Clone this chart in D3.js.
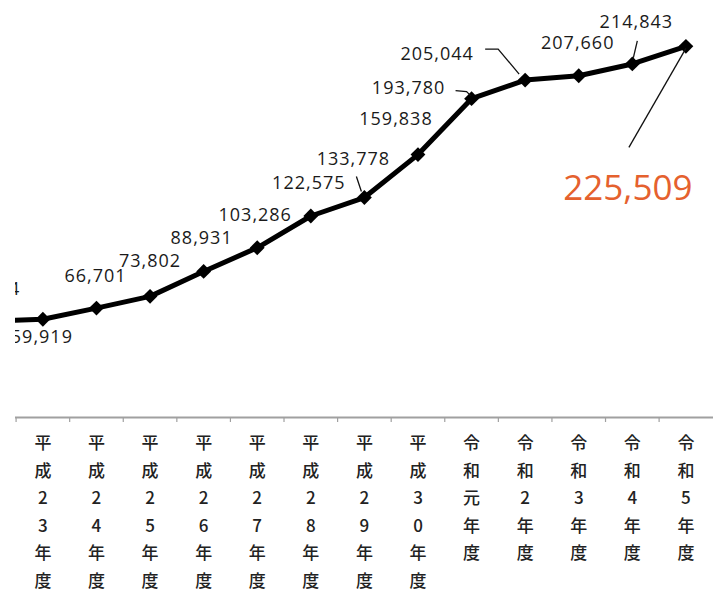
<!DOCTYPE html>
<html>
<head>
<meta charset="utf-8">
<script src="https://cdn.jsdelivr.net/npm/d3@7"></script>
<style>
  body { margin: 0; background: #fff; }
  svg { display: block; }
</style>
</head>
<body>
<div id="chart"></div>
<script>
// fiscal years (the first one is cut off at the left edge of the picture)
var years = ["平成22年度", "平成23年度", "平成24年度", "平成25年度", "平成26年度", "平成27年度",
    "平成28年度", "平成29年度", "平成30年度", "令和元年度", "令和2年度", "令和3年度",
    "令和4年度", "令和5年度"];

var counts = [58824, 59919, 66701, 73802, 88931, 103286, 122575, 133778, 159838,
    193780, 205044, 207660, 214843, 225509];

// where each value label sits, relative to its point (px)
var labelDx = [0, -1, -1, 0, -2, -2, -2, -11, -22, -63, -88, -1, 4, -58];
var labelDy = [-26, 24, -26, -29, -27, -27, -27, -33, -30, -5, -20, -27, -36, 154];

var svgWidth = 713;
var svgHeight = 592;

var svg = d3.select("#chart")
    .append("svg")
    .attr("width", svgWidth)
    .attr("height", svgHeight);

// the picture has a white strip on the left, the chart is clipped there
svg.append("clipPath")
    .attr("id", "clip")
    .append("rect")
    .attr("x", 15)
    .attr("y", 0)
    .attr("width", svgWidth - 15)
    .attr("height", svgHeight);

var chartGroup = svg.append("g")
    .attr("clip-path", "url(#clip)");

var xScale = d3.scaleBand()
    .domain(years)
    .range([-37.5, 712.7]);

var yScale = d3.scaleLinear()
    .domain([0, 250000])
    .range([418, 6]);

var cx = d => xScale(d) + xScale.bandwidth() / 2;

// category axis
var bottomAxis = d3.axisBottom(xScale)
    .tickSize(0)
    .tickFormat("");

var axisG = chartGroup.append("g")
    .attr("transform", "translate(0, 417)")
    .call(bottomAxis);

axisG.select(".domain")
    .attr("stroke", "#a0a0a0")
    .attr("stroke-width", 2);

// ticks between categories
axisG.selectAll("line.sep")
    .data(years)
    .enter()
    .append("line")
    .attr("class", "sep")
    .attr("x1", d => xScale(d))
    .attr("x2", d => xScale(d))
    .attr("y1", 0)
    .attr("y2", 5)
    .attr("stroke", "#a0a0a0")
    .attr("stroke-width", 1.2);

// vertical stacked category labels (the cut-off first year shows no label)
years.slice(1).forEach(function (yr) {
    var chars = Array.from(yr);
    var t = chartGroup.append("text")
        .attr("text-anchor", "middle")
        .style("font-family", "'Noto Sans CJK JP', sans-serif")
        .style("font-size", "17px")
        .style("font-weight", "500")
        .attr("fill", "#222");
    t.selectAll("tspan")
        .data(chars)
        .enter()
        .append("tspan")
        .attr("x", cx(yr))
        .attr("y", (c, i) => 449 + i * 27.6)
        .text(c => c);
});

var pts = years.map((yr, i) => ({ year: yr, value: counts[i], x: cx(yr), y: yScale(counts[i]) }));

var line = d3.line()
    .x(d => d.x)
    .y(d => d.y);

chartGroup.append("path")
    .datum(pts)
    .attr("d", line)
    .attr("fill", "none")
    .attr("stroke", "#000")
    .attr("stroke-width", 5)
    .attr("stroke-linejoin", "round");

chartGroup.selectAll("path.marker")
    .data(pts)
    .enter()
    .append("path")
    .attr("class", "marker")
    .attr("d", d3.symbol().type(d3.symbolSquare).size(110))
    .attr("transform", d => `translate(${d.x}, ${d.y}) rotate(45)`)
    .attr("fill", "#000");

// leader lines (offsets from their point)
var leaders = [
    { i: 7, p: [[-8, -21], [-3, -6]] },
    { i: 9, p: [[-16, -8], [-5, -7], [-1, -3]] },
    { i: 10, p: [[-40, -31], [-27, -31], [-6, -6]] },
    { i: 12, p: [[5, -23], [1, -6]] },
    { i: 13, p: [[0, 2], [-57, 101]] }
];

var leaderLine = d3.line();

chartGroup.selectAll("path.leader")
    .data(leaders)
    .enter()
    .append("path")
    .attr("class", "leader")
    .attr("d", d => leaderLine(d.p.map(q => [pts[d.i].x + q[0], pts[d.i].y + q[1]])))
    .attr("fill", "none")
    .attr("stroke", "#111")
    .attr("stroke-width", 1.3);

var fmt = d3.format(",");

chartGroup.selectAll("text.val")
    .data(pts)
    .enter()
    .append("text")
    .attr("class", "val")
    .attr("x", (d, i) => d.x + labelDx[i])
    .attr("y", (d, i) => d.y + labelDy[i])
    .attr("text-anchor", "middle")
    .style("font-family", "'Open Sans', sans-serif")
    .style("font-size", (d, i) => i === pts.length - 1 ? "35px" : "18px")
    .style("letter-spacing", (d, i) => i === pts.length - 1 ? "0px" : "1px")
    .attr("fill", (d, i) => i === pts.length - 1 ? "#e5612e" : "#1a1a1a")
    .text(d => fmt(d.value));
</script>
</body>
</html>
